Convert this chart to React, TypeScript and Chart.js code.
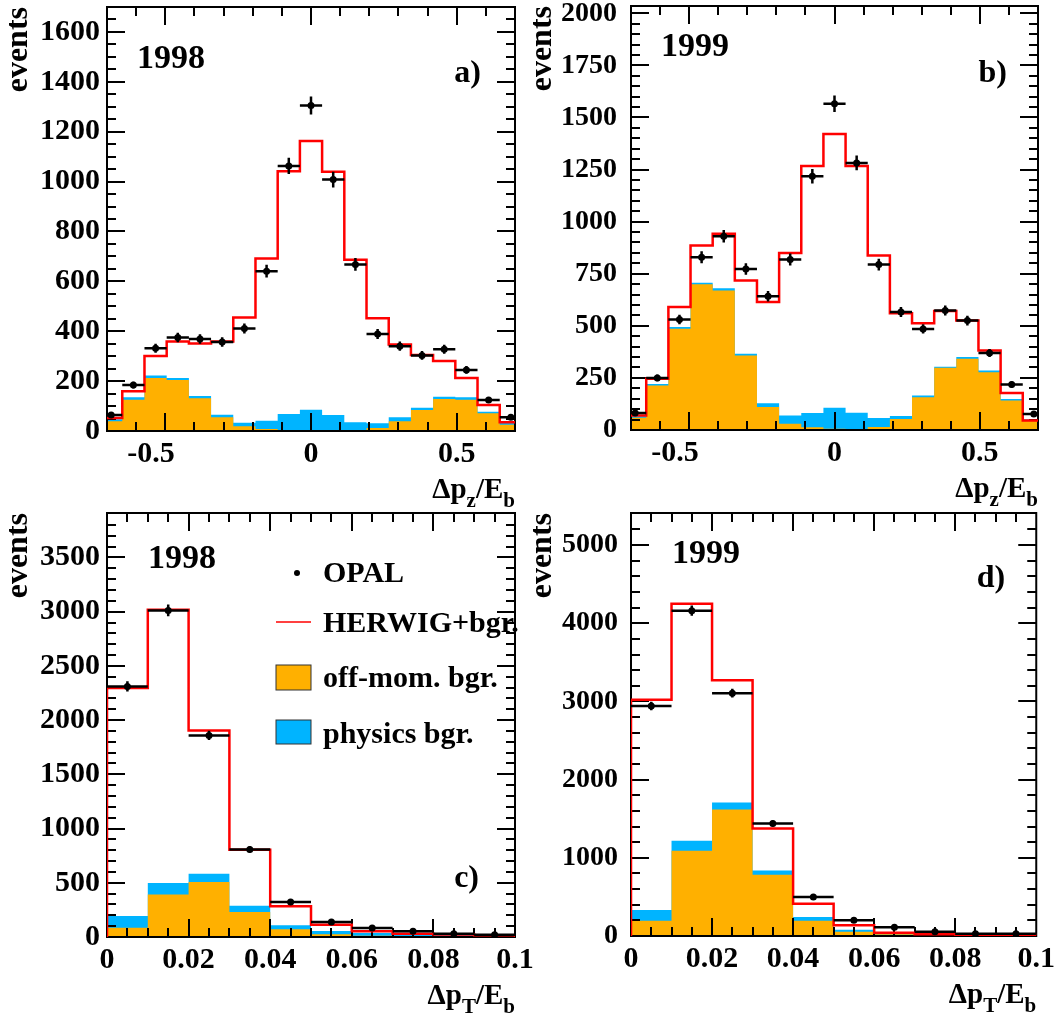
import React, { useEffect, useRef } from 'react';
import { Chart, registerables } from 'chart.js';

Chart.register(...registerables);

// ---------- data ----------
// bin edges (visible part of the histograms)
const dpzEdges = [-0.7238, -0.6476, -0.5714, -0.4952, -0.419, -0.3429, -0.2667, -0.1905, -0.1143, -0.0381,
  0.0381, 0.1143, 0.1905, 0.2667, 0.3429, 0.419, 0.4952, 0.5714, 0.6476, 0.7238];
const dptEdges = [0, 0.01, 0.02, 0.03, 0.04, 0.05, 0.06, 0.07, 0.08, 0.09, 0.1];

// a) 1998, delta pz / Eb
const opal98z = [64, 184, 332, 375, 369, 357, 411, 641, 1063, 1305, 1008, 668, 389, 340, 303, 328, 245, 124, 55];
const herwig98z = [52, 159, 301, 359, 351, 359, 455, 692, 1041, 1163, 1039, 687, 452, 347, 305, 281, 213, 104, 35];
const offMom98z = [39, 125, 213, 204, 131, 55, 19, 8, 3, 1, 3, 4, 12, 39, 84, 128, 125, 71, 25];
const bgTotal98z = [47, 135, 223, 213, 140, 65, 33, 41, 68, 85, 64, 35, 31, 55, 93, 137, 135, 77, 33];

// b) 1999, delta pz / Eb
const opal99z = [82, 250, 530, 829, 930, 773, 642, 818, 1218, 1566, 1282, 794, 566, 485, 574, 525, 370, 218, 77];
const herwig99z = [70, 246, 590, 885, 942, 717, 614, 850, 1267, 1421, 1267, 838, 560, 512, 571, 526, 381, 178, 46];
const offMom99z = [59, 214, 486, 699, 670, 357, 110, 30, 13, 6, 5, 14, 53, 157, 299, 342, 277, 141, 46];
const bgTotal99z = [66, 221, 494, 707, 680, 366, 128, 69, 82, 107, 83, 58, 67, 165, 304, 350, 285, 149, 50];

// c) 1998, delta pT / Eb
const opal98t = [2311, 3012, 1859, 808, 323, 138, 83, 52, 31, 20];
const herwig98t = [2296, 3018, 1905, 805, 283, 114, 52, 31, 22, 15];
const offMom98t = [86, 393, 507, 230, 71, 25, 12, 6, 3, 3];
const bgTotal98t = [194, 498, 584, 289, 108, 55, 37, 22, 15, 12];

// d) 1999, delta pT / Eb
const opal99t = [2943, 4161, 3105, 1440, 498, 200, 111, 55, 30, 30];
const herwig99t = [3020, 4250, 3271, 1376, 413, 136, 43, 21, 13, 13];
const offMom99t = [196, 1090, 1618, 784, 196, 55, 21, 9, 4, 4];
const bgTotal99t = [332, 1218, 1708, 839, 243, 81, 43, 26, 17, 13];

// tick labels
const xLabelsDpz = [-0.5, 0, 0.5];
const xLabelsDpt = [0, 0.02, 0.04, 0.06, 0.08, 0.1];
const yLabels98z = [0, 200, 400, 600, 800, 1000, 1200, 1400, 1600];
const yLabels99z = [0, 250, 500, 750, 1000, 1250, 1500, 1750, 2000];
const yLabels98t = [0, 500, 1000, 1500, 2000, 2500, 3000, 3500];
const yLabels99t = [0, 1000, 2000, 3000, 4000, 5000];

const legendLabels = ['OPAL', 'HERWIG+bgr.', 'off-mom. bgr.', 'physics bgr.'];

// ---------- style ----------
const SERIF = '"Liberation Serif", "Times New Roman", Times, serif';
const ORANGE = '#FFB000';
const BLUE = '#00B4FF';
const RED = '#FF0000';

type PanelCfg = {
  left: number; top: number; width: number; height: number;
  pad: { left: number; top: number; right: number };
  yWidth: number; xHeight: number;
  edges: number[]; opal: number[]; herwig: number[]; offMom: number[]; bgTotal: number[];
  xMin: number; xMax: number; xStep: number; xMinor: number; xLabels: number[];
  yMax: number; yStep: number; yMinor: number; yLabels: number[];
  yFont: number; yPad: number;
  year: string; yearPos: [number, number];
  tag: string; tagPos: [number, number];
  xSub: string; legend: boolean;
};

const panels: PanelCfg[] = [
  {
    left: 0, top: -30, width: 560, height: 560, pad: { left: 0, top: 37, right: 45 }, yWidth: 107, xHeight: 99,
    edges: dpzEdges, opal: opal98z, herwig: herwig98z, offMom: offMom98z, bgTotal: bgTotal98z,
    xMin: -0.7, xMax: 0.7, xStep: 0.5, xMinor: 0.1, xLabels: xLabelsDpz,
    yMax: 1700, yStep: 200, yMinor: 50, yLabels: yLabels98z, yFont: 30, yPad: 7,
    year: '1998', yearPos: [30, 61], tag: 'a)', tagPos: [34, 75], xSub: 'z', legend: false,
  },
  {
    left: 500, top: -30, width: 560, height: 560, pad: { left: 24, top: 36, right: 22 }, yWidth: 107, xHeight: 100,
    edges: dpzEdges, opal: opal99z, herwig: herwig99z, offMom: offMom99z, bgTotal: bgTotal99z,
    xMin: -0.7, xMax: 0.7, xStep: 0.5, xMinor: 0.1, xLabels: xLabelsDpz,
    yMax: 2035, yStep: 250, yMinor: 50, yLabels: yLabels99z, yFont: 28, yPad: 14,
    year: '1999', yearPos: [30, 50], tag: 'b)', tagPos: [31, 76], xSub: 'z', legend: false,
  },
  {
    left: 0, top: 480, width: 560, height: 538, pad: { left: 0, top: 33, right: 45 }, yWidth: 107, xHeight: 81,
    edges: dptEdges, opal: opal98t, herwig: herwig98t, offMom: offMom98t, bgTotal: bgTotal98t,
    xMin: 0, xMax: 0.1, xStep: 0.02, xMinor: 0.005, xLabels: xLabelsDpt,
    yMax: 3910, yStep: 500, yMinor: 100, yLabels: yLabels98t, yFont: 30, yPad: 7,
    year: '1998', yearPos: [41, 55], tag: 'c)', tagPos: [36, 374], xSub: 'T', legend: true,
  },
  {
    left: 500, top: 480, width: 560, height: 538, pad: { left: 24, top: 33, right: 22 }, yWidth: 107, xHeight: 82,
    edges: dptEdges, opal: opal99t, herwig: herwig99t, offMom: offMom99t, bgTotal: bgTotal99t,
    xMin: 0, xMax: 0.1, xStep: 0.02, xMinor: 0.005, xLabels: xLabelsDpt,
    yMax: 5410, yStep: 1000, yMinor: 200, yLabels: yLabels99t, yFont: 28, yPad: 13,
    year: '1999', yearPos: [41, 50], tag: 'd)', tagPos: [31, 74], xSub: 'T', legend: false,
  },
];

// histogram outline points (bin edges) for the library's line element
function stepPoints(edges: number[], vals: number[]) {
  const pts: { x: number; y: number }[] = [{ x: edges[0], y: 0 }];
  vals.forEach((v, i) => {
    pts.push({ x: edges[i], y: v });
    pts.push({ x: edges[i + 1], y: v });
  });
  pts.push({ x: edges[edges.length - 1], y: 0 });
  return pts;
}

const near = (a: number, b: number) => Math.abs(a - b) < 1e-6;
const fmt = (v: number) => String(Math.round(v * 1000) / 1000);
// negative labels sit a little left of their tick, as in the original
const fmtX = (v: number) => (v < 0 ? fmt(v) + '   \u2009' : fmt(v));

function makeDecor(cfg: PanelCfg) {
  const drawFrame = (chart: any) => {
    const { ctx, chartArea: a, scales } = chart;
    const xs = scales.x, ys = scales.y;
    ctx.save();
    ctx.strokeStyle = '#000';
    ctx.lineWidth = 2;
    ctx.beginPath();
    const nx0 = Math.ceil(cfg.xMin / cfg.xMinor - 1e-6), nx1 = Math.floor(cfg.xMax / cfg.xMinor + 1e-6);
    for (let i = nx0; i <= nx1; i++) {
      const v = i * cfg.xMinor;
      const r = v / cfg.xStep;
      const len = near(r, Math.round(r)) ? 18 : 9;
      const px = Math.round(xs.getPixelForValue(v));
      if (px <= a.left + 1 || px >= a.right - 1) continue;
      ctx.moveTo(px, a.bottom); ctx.lineTo(px, a.bottom - len);
      ctx.moveTo(px, a.top); ctx.lineTo(px, a.top + len);
    }
    const ny1 = Math.floor(cfg.yMax / cfg.yMinor + 1e-6);
    for (let i = 1; i <= ny1; i++) {
      const v = i * cfg.yMinor;
      const r = v / cfg.yStep;
      const len = near(r, Math.round(r)) ? 18 : 9;
      const py = Math.round(ys.getPixelForValue(v));
      if (py <= a.top + 1 || py >= a.bottom - 1) continue;
      ctx.moveTo(a.left, py); ctx.lineTo(a.left + len, py);
      ctx.moveTo(a.right, py); ctx.lineTo(a.right - len, py);
    }
    ctx.stroke();
    ctx.strokeRect(a.left, a.top, a.right - a.left, a.bottom - a.top);
    ctx.restore();
  };

  const drawErrors = (chart: any) => {
    const { ctx, chartArea: a, scales } = chart;
    const xs = scales.x, ys = scales.y;
    ctx.save();
    ctx.beginPath();
    ctx.rect(a.left, a.top, a.right - a.left, a.bottom - a.top);
    ctx.clip();
    ctx.strokeStyle = '#000';
    ctx.lineWidth = 2.5;
    ctx.beginPath();
    cfg.opal.forEach((v, i) => {
      const x1 = xs.getPixelForValue(cfg.edges[i]);
      const x2 = xs.getPixelForValue(cfg.edges[i + 1]);
      const xc = (x1 + x2) / 2;
      const y = ys.getPixelForValue(v);
      const err = Math.sqrt(v);
      ctx.moveTo(x1, y); ctx.lineTo(x2, y);
      ctx.moveTo(xc, ys.getPixelForValue(v + err)); ctx.lineTo(xc, ys.getPixelForValue(v - err));
    });
    ctx.stroke();
    ctx.restore();
  };

  const drawTexts = (chart: any) => {
    const { ctx, chartArea: a } = chart;
    ctx.save();
    ctx.fillStyle = '#000';
    ctx.textBaseline = 'alphabetic';
    ctx.font = `bold 34px ${SERIF}`;
    ctx.textAlign = 'left';
    ctx.fillText(cfg.year, a.left + cfg.yearPos[0], a.top + cfg.yearPos[1]);
    ctx.font = `bold 32px ${SERIF}`;
    ctx.textAlign = 'right';
    ctx.fillText(cfg.tag, a.right - cfg.tagPos[0], a.top + cfg.tagPos[1]);

    // x-axis title with subscripts
    const parts = [
      { t: '\u0394p', s: 29, dy: 0 },
      { t: cfg.xSub, s: 21, dy: 9 },
      { t: '/E', s: 29, dy: 0 },
      { t: 'b', s: 21, dy: 9 },
    ];
    ctx.textAlign = 'left';
    let total = 0;
    const widths = parts.map((p) => {
      ctx.font = `bold ${p.s}px ${SERIF}`;
      const w = ctx.measureText(p.t).width;
      total += w;
      return w;
    });
    let x = a.right - total;
    const base = a.bottom + 67;
    parts.forEach((p, i) => {
      ctx.font = `bold ${p.s}px ${SERIF}`;
      ctx.fillText(p.t, x, base + p.dy);
      x += widths[i];
    });

    if (cfg.legend) {
      const bx = a.left + 169, bw = 35, tx = a.left + 216;
      // OPAL marker
      ctx.beginPath();
      ctx.arc(a.left + 190, a.top + 60, 3, 0, Math.PI * 2);
      ctx.fill();
      // HERWIG line
      ctx.strokeStyle = RED;
      ctx.lineWidth = 1.5;
      ctx.beginPath();
      ctx.moveTo(bx, a.top + 109); ctx.lineTo(bx + bw, a.top + 109);
      ctx.stroke();
      // boxes
      ctx.strokeStyle = '#333';
      ctx.lineWidth = 1;
      ctx.fillStyle = ORANGE;
      ctx.fillRect(bx, a.top + 152, bw, 25);
      ctx.strokeRect(bx, a.top + 152, bw, 25);
      ctx.fillStyle = BLUE;
      ctx.fillRect(bx, a.top + 207, bw, 24);
      ctx.strokeRect(bx, a.top + 207, bw, 24);
      ctx.fillStyle = '#000';
      ctx.font = `bold 30px ${SERIF}`;
      const bases = [69, 119, 174, 230];
      legendLabels.forEach((l, i) => ctx.fillText(l, tx, a.top + bases[i]));
    }
    ctx.restore();
  };

  return {
    id: 'decor',
    beforeDatasetDraw(chart: any, args: any) {
      if (args.index === 1) drawFrame(chart);
      if (args.index === 0) drawErrors(chart);
    },
    afterDraw(chart: any) {
      drawTexts(chart);
    },
  };
}

function Panel({ cfg }: { cfg: PanelCfg }) {
  const ref = useRef<HTMLCanvasElement>(null);
  useEffect(() => {
    const canvas = ref.current;
    if (!canvas) return;
    const centers = cfg.opal.map((_, i) => (cfg.edges[i] + cfg.edges[i + 1]) / 2);
    const chart = new Chart(canvas, {
      type: 'scatter',
      data: {
        datasets: [
          {
            type: 'scatter',
            label: 'OPAL',
            data: cfg.opal.map((v, i) => ({ x: centers[i], y: v })),
            pointRadius: 3.5,
            pointBackgroundColor: '#000',
            pointBorderWidth: 0,
            order: 0,
          } as any,
          {
            type: 'line',
            label: 'HERWIG+bgr.',
            data: stepPoints(cfg.edges, cfg.herwig),
            borderColor: RED,
            borderWidth: 2.5,
            pointRadius: 0,
            fill: false,
            tension: 0,
            order: 1,
          },
          {
            type: 'line',
            label: 'off-mom. bgr.',
            data: stepPoints(cfg.edges, cfg.offMom),
            borderWidth: 0,
            borderColor: ORANGE,
            backgroundColor: ORANGE,
            pointRadius: 0,
            fill: 'origin',
            tension: 0,
            order: 2,
          },
          {
            type: 'line',
            label: 'physics bgr.',
            data: stepPoints(cfg.edges, cfg.bgTotal),
            borderWidth: 0,
            borderColor: BLUE,
            backgroundColor: BLUE,
            pointRadius: 0,
            fill: 'origin',
            tension: 0,
            order: 3,
          },
        ],
      },
      options: {
        responsive: false,
        animation: false,
        events: [],
        layout: { padding: { left: cfg.pad.left, top: cfg.pad.top, right: cfg.pad.right, bottom: 0 } },
        plugins: { legend: { display: false }, tooltip: { enabled: false } },
        scales: {
          x: {
            type: 'linear',
            position: 'bottom',
            min: cfg.xMin,
            max: cfg.xMax,
            grid: { display: false, drawTicks: false },
            border: { display: false },
            afterBuildTicks: (s: any) => { s.ticks = cfg.xLabels.map((v) => ({ value: v })); },
            ticks: {
              autoSkip: false,
              maxRotation: 0,
              padding: 5,
              color: '#000',
              font: { family: SERIF, size: 30, weight: 'bold', lineHeight: 1.2 },
              callback: (v: any) => fmtX(Number(v)),
            },
            afterFit: (s: any) => { s.height = cfg.xHeight; },
          },
          y: {
            type: 'linear',
            position: 'left',
            min: 0,
            max: cfg.yMax,
            grid: { display: false, drawTicks: false },
            border: { display: false },
            title: {
              display: true,
              text: 'events',
              align: 'end',
              color: '#000',
              padding: 0,
              font: { family: SERIF, size: 32, weight: 'bold', lineHeight: 1.15 },
            },
            afterBuildTicks: (s: any) => { s.ticks = cfg.yLabels.map((v) => ({ value: v })); },
            ticks: {
              autoSkip: false,
              padding: cfg.yPad,
              color: '#000',
              font: { family: SERIF, size: cfg.yFont, weight: 'bold', lineHeight: 1.2 },
              callback: (v: any) => fmt(Number(v)),
            },
            afterFit: (s: any) => { s.width = cfg.yWidth; },
          },
        },
      } as any,
      plugins: [makeDecor(cfg)],
    });
    return () => chart.destroy();
  }, [cfg]);
  return (
    <div style={{ position: 'absolute', left: cfg.left, top: cfg.top, width: cfg.width, height: cfg.height }}>
      <canvas ref={ref} width={cfg.width} height={cfg.height} style={{ display: 'block', width: cfg.width, height: cfg.height }} />
    </div>
  );
}

export default function App() {
  return (
    <div style={{ position: 'fixed', left: 0, top: 0, width: 1060, height: 1018, background: '#fff', overflow: 'hidden' }}>
      {panels.map((p, i) => (
        <Panel key={i} cfg={p} />
      ))}
    </div>
  );
}
